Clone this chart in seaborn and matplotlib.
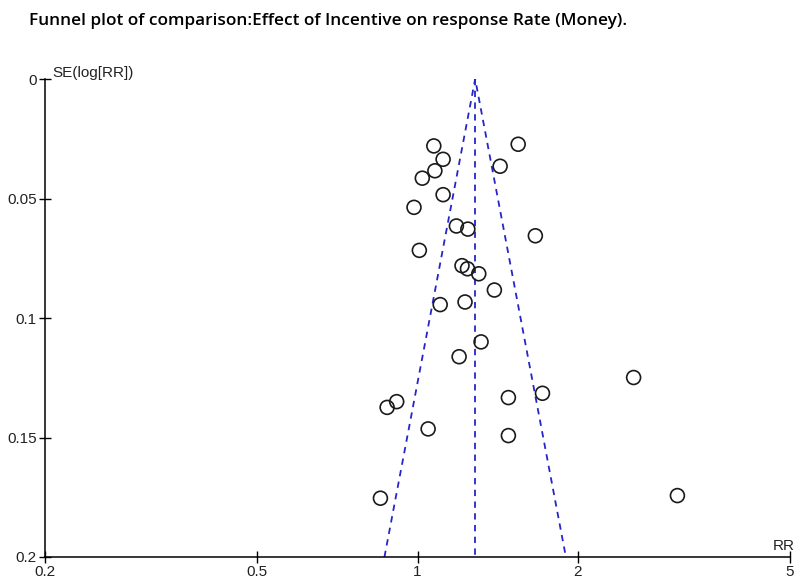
import numpy as np
import pandas as pd
import matplotlib
matplotlib.use("Agg")
import matplotlib.pyplot as plt
import seaborn as sns
from matplotlib.ticker import FixedLocator, FixedFormatter, NullLocator

# Study estimates
rr = [1.073, 1.545, 1.117, 1.078, 1.429, 1.021, 1.117, 0.985, 1.183, 1.243,
      1.664, 1.008, 1.212, 1.241, 1.303, 1.394, 1.103, 1.228, 1.316, 1.197,
      2.544, 0.914, 0.877, 1.481, 1.716, 1.047, 1.481, 0.852, 3.074]
se = [0.0280, 0.0273, 0.0336, 0.0384, 0.0365, 0.0415, 0.0484, 0.0537, 0.0615, 0.0628,
      0.0656, 0.0717, 0.0781, 0.0794, 0.0815, 0.0883, 0.0944, 0.0933, 0.1100, 0.1162,
      0.1249, 0.1350, 0.1374, 0.1333, 0.1315, 0.1464, 0.1492, 0.1754, 0.1743]

pooled_rr = 1.283
se_max = 0.2

x_ticks = [0.2, 0.5, 1, 2, 5]
x_tick_labels = ["0.2", "0.5", "1", "2", "5"]
y_ticks = [0, 0.05, 0.1, 0.15, 0.2]
y_tick_labels = ["0", "0.05", "0.1", "0.15", "0.2"]

df = pd.DataFrame({"RR": rr, "SE": se})

sns.set_style("ticks")
plt.rcParams["font.family"] = ["Liberation Sans", "DejaVu Sans"]

fig = plt.figure(figsize=(8, 5.82), dpi=100)
ax = fig.add_axes([45 / 800, 1 - 557 / 582, 745 / 800, 478 / 582])

# funnel (95% limits) and pooled estimate
lo = pooled_rr * np.exp(-1.96 * se_max)
hi = pooled_rr * np.exp(1.96 * se_max)
ax.plot([lo, pooled_rr, hi], [se_max, 0, se_max], color="#2525cc",
        linestyle=(0, (3.5, 3)), linewidth=1.3, zorder=1)
ax.plot([pooled_rr, pooled_rr], [0, se_max], color="#2525cc",
        linestyle=(0, (3.5, 3)), linewidth=1.3, zorder=1)

sns.scatterplot(data=df, x="RR", y="SE", ax=ax, marker="o", s=100,
                facecolor="none", edgecolor="#1a1a1a", linewidth=1.2, zorder=3)

ax.set_xscale("log")
ax.set_xlim(0.2, 5)
ax.set_ylim(0.2, 0)
ax.xaxis.set_major_locator(FixedLocator(x_ticks))
ax.xaxis.set_major_formatter(FixedFormatter(x_tick_labels))
ax.xaxis.set_minor_locator(NullLocator())
ax.yaxis.set_major_locator(FixedLocator(y_ticks))
ax.yaxis.set_major_formatter(FixedFormatter(y_tick_labels))

for s in ["top", "right"]:
    ax.spines[s].set_visible(False)
for s in ["left", "bottom"]:
    ax.spines[s].set_linewidth(1.1)
    ax.spines[s].set_color("black")
ax.tick_params(direction="inout", length=8, width=1, colors="black",
               labelsize=11, pad=2, labelcolor="#222222")
ax.set_xlabel("")
ax.set_ylabel("")

fig.text(52 / 800, 1 - 80 / 582, "SE(log[RR])", fontsize=11, color="#222222",
         ha="left", va="bottom")
fig.text(795 / 800, 1 - 553 / 582, "RR", fontsize=11, color="#222222",
         ha="right", va="bottom")
fig.text(29 / 800, 1 - 21 / 582,
         "Funnel plot of comparison:Effect of Incentive on response Rate (Money).",
         fontsize=12.4, fontweight="semibold", family=["Open Sans", "DejaVu Sans"],
         ha="left", va="center", color="black")

fig.savefig("out.png", dpi=100)
